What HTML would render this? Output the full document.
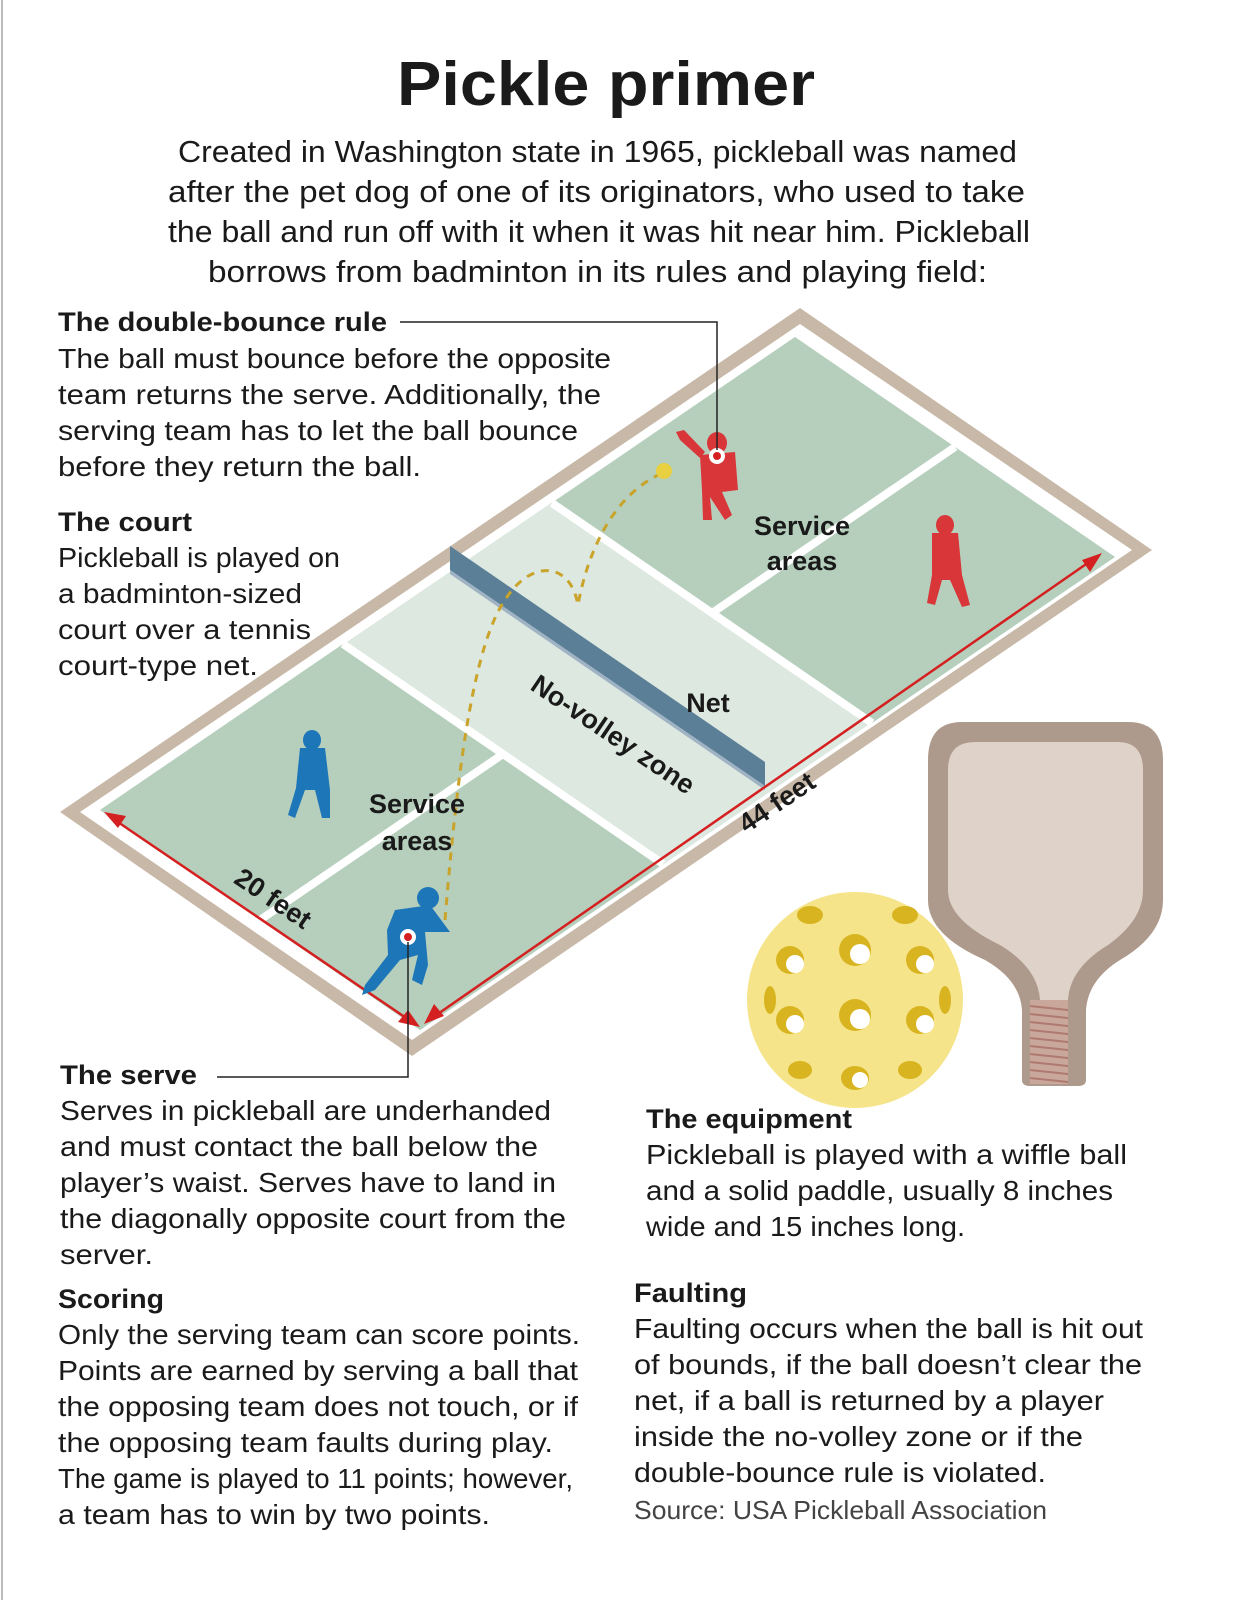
<!DOCTYPE html>
<html><head><meta charset="utf-8"><style>
html,body{margin:0;padding:0;background:#fff;}
svg{display:block;}
text{font-family:"Liberation Sans",sans-serif;fill:#1a1a1a;}
.b{font-weight:bold;}
</style></head><body>
<svg width="1236" height="1600" viewBox="0 0 1236 1600" xmlns="http://www.w3.org/2000/svg">
<rect x="0" y="0" width="1236" height="1600" fill="#fff"/>
<line x1="2" y1="0" x2="2" y2="1600" stroke="#bbb" stroke-width="2"/>
<text x="397" y="105" font-size="62" class="b" textLength="418" lengthAdjust="spacingAndGlyphs">Pickle primer</text>
<g font-size="31" fill="#333">
<text x="178" y="162" textLength="839" lengthAdjust="spacingAndGlyphs">Created in Washington state in 1965, pickleball was named</text>
<text x="168" y="202" textLength="857" lengthAdjust="spacingAndGlyphs">after the pet dog of one of its originators, who used to take</text>
<text x="168" y="242" textLength="862" lengthAdjust="spacingAndGlyphs">the ball and run off with it when it was hit near him. Pickleball</text>
<text x="208" y="282" textLength="779" lengthAdjust="spacingAndGlyphs">borrows from badminton in its rules and playing field:</text>
</g>
<!-- court -->
<polygon points="60,812 412,1056 1152,550 800,308" fill="#c8b8a8"/>
<polygon points="80,812 412,1040 1132,550 800,324" fill="#fff"/>
<polygon points="100,810 420,1030 1115,557 795,337" fill="#dde8e0"/>
<g fill="#b5cfbc">
<polygon points="100,810 343,644 663,864 420,1030"/>
<polygon points="552,503 795,337 1115,557 872,723"/>
</g>
<g stroke="#fff" stroke-width="8" fill="none">
<line x1="343" y1="644" x2="663" y2="864"/>
<line x1="552" y1="503" x2="872" y2="723"/>
<line x1="260" y1="920" x2="503" y2="754"/>
<line x1="712" y1="613" x2="955" y2="447"/>
</g>
<!-- net -->
<polygon points="450,546 765,762 765,786 450,570" fill="#5a7f96"/>
<polygon points="450,570 765,786 765,790 450,574" fill="#9fb3c4"/>
<!-- red arrows -->
<g stroke="#d42020" stroke-width="2.5" fill="#d42020">
<line x1="112" y1="818" x2="412" y2="1022"/>
<line x1="432" y1="1018" x2="1092" y2="560"/>
</g>
<polygon points="104,812 126,816 118,828" fill="#d42020"/>
<polygon points="420,1027 398,1022 408,1010" fill="#d42020"/>
<polygon points="424,1024 434,1004 444,1016" fill="#d42020"/>
<polygon points="1102,553 1090,572 1082,560" fill="#d42020"/>
<!-- ball path -->
<path d="M445,920 C455,800 470,650 505,600 C530,560 570,560 578,605 C590,540 620,490 665,472" stroke="#c9a32a" stroke-width="3" stroke-dasharray="8,7" fill="none"/>
<circle cx="664" cy="471" r="8" fill="#e8d040"/>
<!-- players -->
<g fill="#d9363a">
<ellipse cx="717" cy="443" rx="10" ry="11"/>
<path d="M700,455 L735,452 L738,490 L722,492 L732,515 L725,520 L710,497 L712,520 L703,520 L702,490 Z"/>
<path d="M700,458 L680,440 L676,432 L684,430 L705,452 Z"/>
<ellipse cx="945" cy="525" rx="9" ry="10"/>
<path d="M932,533 L958,533 L962,575 L970,605 L962,607 L950,580 L942,580 L935,605 L927,603 L932,575 Z"/>
</g>
<g fill="#1d76b8">
<ellipse cx="312" cy="740" rx="9" ry="10"/>
<path d="M300,748 L325,748 L330,790 L330,818 L322,818 L315,790 L305,790 L295,818 L288,815 L296,788 Z"/>
<ellipse cx="428" cy="898" rx="11" ry="11"/>
<path d="M395,910 L430,905 L450,932 L425,932 L428,965 L422,985 L412,980 L418,955 L400,960 L375,990 L362,995 L365,985 L388,955 L387,930 Z"/>
</g>
<circle cx="717" cy="456" r="8" fill="#fff"/><circle cx="717" cy="456" r="4" fill="#d42020"/>
<circle cx="408" cy="937" r="8" fill="#fff"/><circle cx="408" cy="937" r="4" fill="#d42020"/>
<!-- connectors -->
<polyline points="400,322 717,322 717,450" stroke="#222" stroke-width="1.5" fill="none"/>
<polyline points="217,1077 408,1077 408,942" stroke="#222" stroke-width="1.5" fill="none"/>
<!-- court labels -->
<g font-size="27" class="b" text-anchor="middle">
<text x="802" y="535" class="b">Service</text><text x="802" y="570" class="b">areas</text>
<text x="417" y="813" class="b">Service</text><text x="417" y="850" class="b">areas</text>
<text x="708" y="712" class="b">Net</text>
<text x="0" y="0" class="b" transform="translate(608,742) rotate(34)">No-volley zone</text>
<text x="0" y="0" class="b" transform="translate(782,810) rotate(-34)">44 feet</text>
<text x="0" y="0" class="b" transform="translate(268,906) rotate(34)">20 feet</text>
</g>
<!-- paddle -->
<path d="M962,722 L1128,722 Q1163,722 1163,760 L1163,900 Q1163,935 1120,960 Q1088,980 1086,1010 L1086,1080 Q1086,1086 1078,1086 L1030,1086 Q1022,1086 1022,1080 L1022,1010 Q1020,980 985,960 Q928,935 928,900 L928,760 Q928,722 962,722 Z" fill="#ad9a8c"/>
<path d="M975,742 L1118,742 Q1143,742 1143,770 L1143,890 Q1143,920 1108,945 Q1070,968 1068,1000 L1040,1000 Q1038,968 1000,945 Q948,920 948,890 L948,770 Q948,742 975,742 Z" fill="#dfd2c8"/>
<rect x="1030" y="1000" width="38" height="84" fill="#c9a79a"/>
<g stroke="#b07a70" stroke-width="2">
<line x1="1030" y1="1006" x2="1068" y2="1010"/><line x1="1030" y1="1014" x2="1068" y2="1018"/><line x1="1030" y1="1022" x2="1068" y2="1026"/><line x1="1030" y1="1030" x2="1068" y2="1034"/><line x1="1030" y1="1038" x2="1068" y2="1042"/><line x1="1030" y1="1046" x2="1068" y2="1050"/><line x1="1030" y1="1054" x2="1068" y2="1058"/><line x1="1030" y1="1062" x2="1068" y2="1066"/><line x1="1030" y1="1070" x2="1068" y2="1074"/><line x1="1030" y1="1078" x2="1068" y2="1082"/>
</g>
<!-- ball -->
<circle cx="855" cy="1000" r="108" fill="#f6e48a"/>
<g fill="#d8b520">
<ellipse cx="855" cy="950" rx="16" ry="16"/><ellipse cx="855" cy="1015" rx="16" ry="16"/><ellipse cx="855" cy="1078" rx="14" ry="12"/>
<ellipse cx="790" cy="960" rx="14" ry="14"/><ellipse cx="920" cy="960" rx="14" ry="14"/>
<ellipse cx="790" cy="1020" rx="14" ry="14"/><ellipse cx="920" cy="1020" rx="14" ry="14"/>
<ellipse cx="810" cy="915" rx="13" ry="9"/><ellipse cx="905" cy="915" rx="13" ry="9"/>
<ellipse cx="770" cy="1000" rx="6" ry="14"/><ellipse cx="945" cy="1000" rx="6" ry="14"/>
<ellipse cx="800" cy="1070" rx="12" ry="9"/><ellipse cx="910" cy="1070" rx="12" ry="9"/>
</g>
<g fill="#fff">
<circle cx="860" cy="954" r="10"/><circle cx="860" cy="1019" r="10"/><circle cx="860" cy="1080" r="8"/>
<circle cx="795" cy="964" r="9"/><circle cx="925" cy="964" r="9"/>
<circle cx="795" cy="1024" r="9"/><circle cx="925" cy="1024" r="9"/>
</g>
<!-- left text -->
<text x="58" y="331" font-size="27" class="b" textLength="329" lengthAdjust="spacingAndGlyphs">The double-bounce rule</text>
<g font-size="28">
<text x="58" y="368" textLength="553" lengthAdjust="spacingAndGlyphs">The ball must bounce before the opposite</text>
<text x="58" y="404" textLength="543" lengthAdjust="spacingAndGlyphs">team returns the serve. Additionally, the</text>
<text x="58" y="440" textLength="520" lengthAdjust="spacingAndGlyphs">serving team has to let the ball bounce</text>
<text x="58" y="476" textLength="363" lengthAdjust="spacingAndGlyphs">before they return the ball.</text>
</g>
<text x="58" y="531" font-size="27" class="b" textLength="134" lengthAdjust="spacingAndGlyphs">The court</text>
<g font-size="28">
<text x="58" y="567" textLength="282" lengthAdjust="spacingAndGlyphs">Pickleball is played on</text>
<text x="58" y="603" textLength="244" lengthAdjust="spacingAndGlyphs">a badminton-sized</text>
<text x="58" y="639" textLength="253" lengthAdjust="spacingAndGlyphs">court over a tennis</text>
<text x="58" y="675" textLength="200" lengthAdjust="spacingAndGlyphs">court-type net.</text>
</g>
<text x="60" y="1084" font-size="27" class="b" textLength="137" lengthAdjust="spacingAndGlyphs">The serve</text>
<g font-size="28">
<text x="60" y="1120" textLength="491" lengthAdjust="spacingAndGlyphs">Serves in pickleball are underhanded</text>
<text x="60" y="1156" textLength="478" lengthAdjust="spacingAndGlyphs">and must contact the ball below the</text>
<text x="60" y="1192" textLength="496" lengthAdjust="spacingAndGlyphs">player’s waist. Serves have to land in</text>
<text x="60" y="1228" textLength="506" lengthAdjust="spacingAndGlyphs">the diagonally opposite court from the</text>
<text x="60" y="1264" textLength="93" lengthAdjust="spacingAndGlyphs">server.</text>
</g>
<text x="58" y="1308" font-size="27" class="b" textLength="106" lengthAdjust="spacingAndGlyphs">Scoring</text>
<g font-size="28">
<text x="58" y="1344" textLength="522" lengthAdjust="spacingAndGlyphs">Only the serving team can  score points.</text>
<text x="58" y="1380" textLength="520" lengthAdjust="spacingAndGlyphs">Points are earned by serving a ball that</text>
<text x="58" y="1416" textLength="520" lengthAdjust="spacingAndGlyphs">the opposing team does not touch, or if</text>
<text x="58" y="1452" textLength="495" lengthAdjust="spacingAndGlyphs">the opposing team faults during play.</text>
<text x="58" y="1488" textLength="515" lengthAdjust="spacingAndGlyphs">The game is played to 11 points; however,</text>
<text x="58" y="1524" textLength="432" lengthAdjust="spacingAndGlyphs">a team has to win by two points.</text>
</g>
<text x="646" y="1128" font-size="27" class="b" textLength="206" lengthAdjust="spacingAndGlyphs">The equipment</text>
<g font-size="28">
<text x="646" y="1164" textLength="481" lengthAdjust="spacingAndGlyphs">Pickleball is played with a wiffle ball</text>
<text x="646" y="1200" textLength="467" lengthAdjust="spacingAndGlyphs">and a solid paddle, usually 8 inches</text>
<text x="646" y="1236" textLength="319" lengthAdjust="spacingAndGlyphs">wide and 15 inches long.</text>
</g>
<text x="634" y="1302" font-size="27" class="b" textLength="113" lengthAdjust="spacingAndGlyphs">Faulting</text>
<g font-size="28">
<text x="634" y="1338" textLength="509" lengthAdjust="spacingAndGlyphs">Faulting occurs when  the ball is hit out</text>
<text x="634" y="1374" textLength="508" lengthAdjust="spacingAndGlyphs">of bounds, if the ball doesn’t clear the</text>
<text x="634" y="1410" textLength="470" lengthAdjust="spacingAndGlyphs">net, if a ball is returned by a player</text>
<text x="634" y="1446" textLength="449" lengthAdjust="spacingAndGlyphs">inside the no-volley zone or if the</text>
<text x="634" y="1482" textLength="412" lengthAdjust="spacingAndGlyphs">double-bounce rule is violated.</text>
</g>
<text x="634" y="1519" font-size="26" style="fill:#444" textLength="413" lengthAdjust="spacingAndGlyphs">Source: USA Pickleball Association</text>
</svg>
</body></html>
